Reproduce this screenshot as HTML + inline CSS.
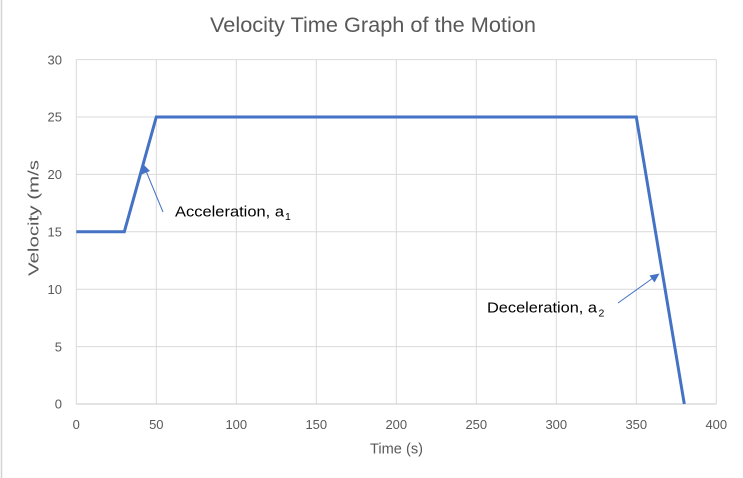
<!DOCTYPE html>
<html>
<head>
<meta charset="utf-8">
<style>
  html, body { margin: 0; padding: 0; background: #ffffff; }
  svg { display: block; }
  text { font-family: "Liberation Sans", "DejaVu Sans", sans-serif; }
</style>
</head>
<body>
<svg width="743" height="478" viewBox="0 0 743 478" xmlns="http://www.w3.org/2000/svg">
  <rect x="0" y="0" width="743" height="478" fill="#ffffff"/>
  <!-- left edge border -->
  <line x1="1.5" y1="0" x2="1.5" y2="478" stroke="#d4d4d4" stroke-width="1.5"/>

  <!-- Title -->
  <text x="373" y="32" text-anchor="middle" font-size="21" fill="#595959" textLength="326" lengthAdjust="spacingAndGlyphs">Velocity Time Graph of the Motion</text>

  <!-- Horizontal gridlines -->
  <g stroke="#d9d9d9" stroke-width="1">
    <line x1="76.3" y1="59.6" x2="716.3" y2="59.6"/>
    <line x1="76.3" y1="117" x2="716.3" y2="117"/>
    <line x1="76.3" y1="174.4" x2="716.3" y2="174.4"/>
    <line x1="76.3" y1="231.8" x2="716.3" y2="231.8"/>
    <line x1="76.3" y1="289.2" x2="716.3" y2="289.2"/>
    <line x1="76.3" y1="346.6" x2="716.3" y2="346.6"/>
  </g>
  <!-- Vertical gridlines -->
  <g stroke="#d9d9d9" stroke-width="1">
    <line x1="76.3" y1="59.6" x2="76.3" y2="404"/>
    <line x1="156.3" y1="59.6" x2="156.3" y2="404"/>
    <line x1="236.3" y1="59.6" x2="236.3" y2="404"/>
    <line x1="316.3" y1="59.6" x2="316.3" y2="404"/>
    <line x1="396.3" y1="59.6" x2="396.3" y2="404"/>
    <line x1="476.3" y1="59.6" x2="476.3" y2="404"/>
    <line x1="556.3" y1="59.6" x2="556.3" y2="404"/>
    <line x1="636.3" y1="59.6" x2="636.3" y2="404"/>
    <line x1="716.3" y1="59.6" x2="716.3" y2="404"/>
  </g>
  <!-- X axis line -->
  <line x1="76.3" y1="404" x2="716.3" y2="404" stroke="#c8c8c8" stroke-width="1"/>

  <!-- Y tick labels -->
  <g font-size="13" fill="#595959" text-anchor="end">
    <text x="62" y="64.3">30</text>
    <text x="62" y="121.7">25</text>
    <text x="62" y="179.1">20</text>
    <text x="62" y="236.5">15</text>
    <text x="62" y="293.9">10</text>
    <text x="62" y="351.3">5</text>
    <text x="62" y="408.7">0</text>
  </g>

  <!-- X tick labels -->
  <g font-size="13" fill="#595959" text-anchor="middle">
    <text x="76.3" y="429">0</text>
    <text x="156.3" y="429">50</text>
    <text x="236.3" y="429">100</text>
    <text x="316.3" y="429">150</text>
    <text x="396.3" y="429">200</text>
    <text x="476.3" y="429">250</text>
    <text x="556.3" y="429">300</text>
    <text x="636.3" y="429">350</text>
    <text x="716.3" y="429">400</text>
  </g>

  <!-- Axis titles -->
  <text x="396.5" y="453.3" text-anchor="middle" font-size="15" fill="#595959" textLength="53" lengthAdjust="spacingAndGlyphs">Time (s)</text>
  <text transform="translate(38.5,276) rotate(-90)" x="0" y="0" font-size="15" fill="#595959" textLength="116" lengthAdjust="spacingAndGlyphs">Velocity (m/s</text>

  <!-- Data series -->
  <polyline points="76.3,231.8 124.3,231.8 156.3,117 636.3,117 684.3,404" fill="none" stroke="#4472c4" stroke-width="3" stroke-linejoin="miter"/>

  <!-- Acceleration arrow -->
  <line x1="163" y1="212" x2="146" y2="171" stroke="#4472c4" stroke-width="1"/>
  <polygon points="143,164 141.5,174.5 150,171" fill="#4472c4"/>
  <!-- Deceleration arrow -->
  <line x1="618" y1="303" x2="653" y2="278" stroke="#4472c4" stroke-width="1"/>
  <polygon points="659.5,273.5 649.5,275.5 654.5,282.5" fill="#4472c4"/>

  <!-- Annotations -->
  <text x="175" y="216.7" font-size="15" fill="#000000" textLength="109" lengthAdjust="spacingAndGlyphs">Acceleration, a</text>
  <text x="285" y="220" font-size="10.5" fill="#000000">1</text>
  <text x="487" y="312.7" font-size="15" fill="#000000" textLength="110" lengthAdjust="spacingAndGlyphs">Deceleration, a</text>
  <text x="598.5" y="316.7" font-size="10.5" fill="#000000">2</text>
</svg>
</body>
</html>
